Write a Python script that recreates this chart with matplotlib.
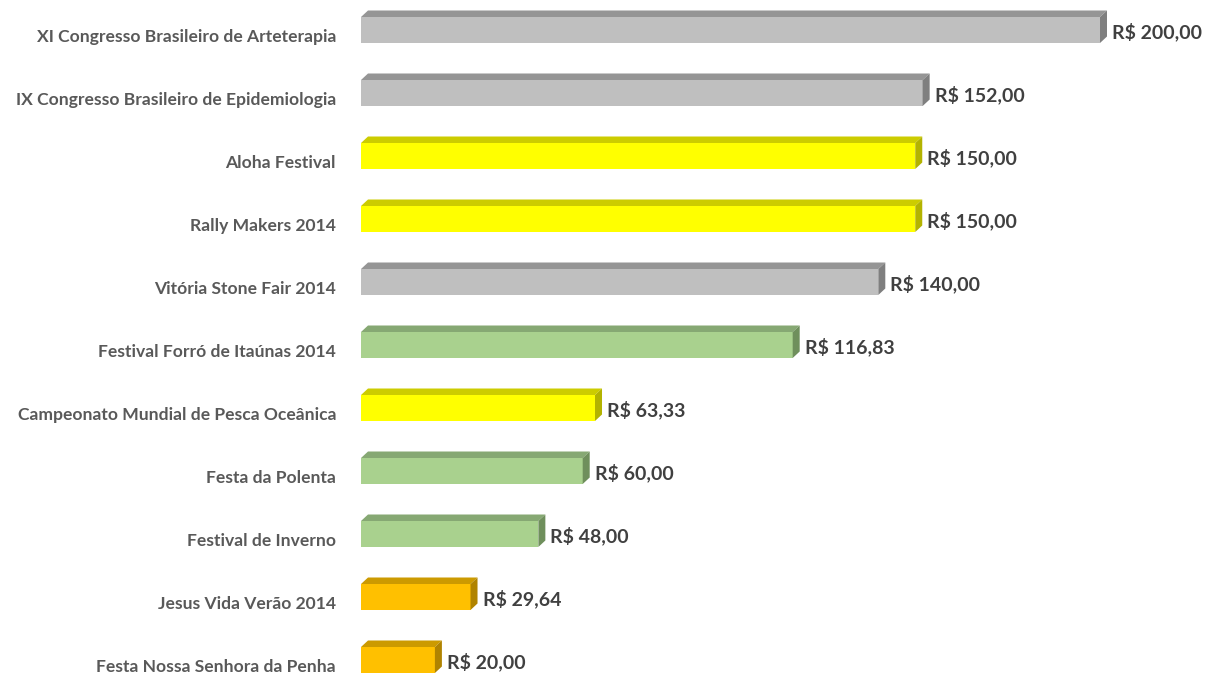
import matplotlib
matplotlib.use("Agg")
import matplotlib.pyplot as plt
from matplotlib.patches import Polygon

plt.rcParams['font.family'] = ['Lato', 'DejaVu Sans']

# data, top to bottom as in the picture
eventos = ["XI Congresso Brasileiro de Arteterapia",
           "IX Congresso Brasileiro de Epidemiologia",
           "Aloha Festival",
           "Rally Makers 2014",
           "Vitória Stone Fair 2014",
           "Festival Forró de Itaúnas 2014",
           "Campeonato Mundial de Pesca Oceânica",
           "Festa da Polenta",
           "Festival de Inverno",
           "Jesus Vida Verão 2014",
           "Festa Nossa Senhora da Penha"]
valores = [200.00, 152.00, 150.00, 150.00, 140.00, 116.83, 63.33, 60.00, 48.00, 29.64, 20.00]
grupos = ["cinza", "cinza", "amarelo", "amarelo", "cinza", "verde",
          "amarelo", "verde", "verde", "laranja", "laranja"]

# front, top, side colours
cores = {"cinza":   ("#BFBFBF", "#959595", "#7F7F7F"),
         "amarelo": ("#FFFF00", "#CCCC00", "#B3B300"),
         "verde":   ("#A9D18E", "#86A873", "#6F8F5C"),
         "laranja": ("#FFC000", "#CC9A00", "#B08300")}

W, H = 1207, 675
fig = plt.figure(figsize=(W/100, H/100), dpi=100)
# x: 0 -> px 361, 200 -> px 1100 ; y: centres from px 660 (bottom) to px 30 (top)
ax = fig.add_axes([361/W, 1-660/H, 739/W, 630/H])
ax.set_xlim(0, 200)
ax.set_ylim(0, 10)
ax.axis("off")

pxx = 200/739.0     # data units per pixel, x
pxy = 10/630.0      # data units per pixel, y
h = 26*pxy/2        # half bar height
dx, dy = 7*pxx, 6.5*pxy

n = len(valores)
for i, (nome, v, g) in enumerate(zip(eventos, valores, grupos)):
    y = n-1-i
    fr, tp, sd = cores[g]
    ax.add_patch(Polygon([(0, y-h), (v, y-h), (v, y+h), (0, y+h)],
                         closed=True, fc=fr, ec="none", clip_on=False))
    ax.add_patch(Polygon([(0, y+h), (v, y+h), (v+dx, y+h+dy), (dx, y+h+dy)],
                         closed=True, fc=tp, ec="none", clip_on=False))
    ax.add_patch(Polygon([(v, y-h), (v+dx, y-h+dy), (v+dx, y+h+dy), (v, y+h)],
                         closed=True, fc=sd, ec="none", clip_on=False))
    rot = ("R$ %.2f" % v).replace(".", ",")
    ax.text(v+dx+5*pxx, y-8*pxy, rot, ha="left", va="baseline", fontsize=14,
            fontweight="bold", color="#404040", clip_on=False)
    ax.text(-25*pxx, y-11.7*pxy, nome, ha="right", va="baseline", fontsize=12.6,
            fontweight="bold", color="#595959", clip_on=False)

fig.savefig("out.png", dpi=100)
